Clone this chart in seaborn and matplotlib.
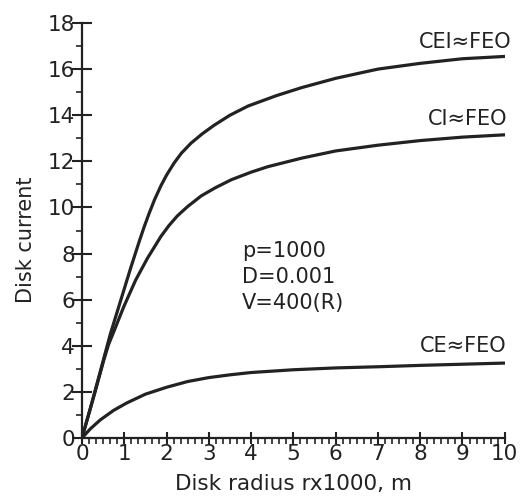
import matplotlib
matplotlib.use("Agg")
import matplotlib.pyplot as plt
from matplotlib.ticker import MultipleLocator
import pandas as pd
import seaborn as sns

# Disk radius (x1000 m) and disk current for the three cases
r_cei = [0, 0.2, 0.44, 0.67, 0.91, 1.15, 1.35, 1.47, 1.59, 1.72, 1.87, 2.0, 2.18,
         2.35, 2.58, 2.85, 3.13, 3.5, 3.93, 4.6, 5.2, 6, 7, 8, 9, 10]
i_cei = [0, 1.3, 2.93, 4.5, 5.93, 7.36, 8.5, 9.15, 9.75, 10.35, 10.95, 11.4, 11.93,
         12.35, 12.79, 13.2, 13.57, 14.0, 14.4, 14.85, 15.2, 15.6, 16.0, 16.25,
         16.45, 16.55]

r_ci = [0, 0.28, 0.52, 0.63, 0.75, 0.99, 1.27, 1.55, 1.87, 2.06, 2.26, 2.5, 2.82,
        3.15, 3.53, 4.0, 4.4, 5.2, 6, 7, 8, 9, 10]
i_ci = [0, 1.8, 3.4, 4.06, 4.6, 5.7, 6.85, 7.8, 8.75, 9.22, 9.64, 10.04, 10.5,
        10.85, 11.2, 11.53, 11.77, 12.14, 12.45, 12.7, 12.9, 13.05, 13.15]

r_ce = [0, 0.2, 0.43, 0.75, 1.06, 1.5, 2, 2.5, 3, 3.5, 4, 5, 6, 7, 8, 9, 10]
i_ce = [0, 0.4, 0.78, 1.2, 1.52, 1.9, 2.2, 2.45, 2.62, 2.74, 2.84, 2.96, 3.04,
        3.09, 3.15, 3.2, 3.25]

series_names = ["CEI\u2248FEO", "CI\u2248FEO", "CE\u2248FEO"]
params_text = ["p=1000", "D=0.001", "V=400(R)"]

frames = []
for name, rr, ii in zip(series_names, [r_cei, r_ci, r_ce], [i_cei, i_ci, i_ce]):
    frames.append(pd.DataFrame({"r": rr, "I": ii, "case": name}))
df = pd.concat(frames, ignore_index=True)

sns.set_style("ticks")
plt.rcParams["font.family"] = ["DejaVu Sans"]

ink = "#222222"
fig = plt.figure(figsize=(5.22, 5.0), dpi=100)
ax = fig.add_axes([0.157, 0.124, 0.81, 0.83])

sns.lineplot(data=df, x="r", y="I", units="case", estimator=None, sort=False,
             color=ink, linewidth=2.3, ax=ax, legend=False)
for line in ax.get_lines():
    line.set_solid_joinstyle("round")

ax.set_xlim(0, 10)
ax.set_ylim(0, 18)
ax.xaxis.set_major_locator(MultipleLocator(1))
ax.xaxis.set_minor_locator(MultipleLocator(1 / 6))
ax.yaxis.set_major_locator(MultipleLocator(2))
ax.yaxis.set_minor_locator(MultipleLocator(1))

sns.despine(ax=ax)
for s in ["left", "bottom"]:
    ax.spines[s].set_linewidth(1.6)
    ax.spines[s].set_color(ink)

ax.tick_params(axis="x", which="major", direction="inout", length=9, width=1.5,
               labelsize=15.5, pad=0, colors=ink)
ax.tick_params(axis="x", which="minor", direction="out", length=4, width=1.2,
               colors=ink)
ax.tick_params(axis="y", which="major", direction="inout", length=14, width=1.5,
               labelsize=15.5, pad=-2, colors=ink)
ax.tick_params(axis="y", which="minor", direction="out", length=4, width=1.2,
               colors=ink)

ax.set_xlabel("Disk radius rx1000, m", fontsize=15.5, color=ink, labelpad=7)
ax.set_ylabel("Disk current", fontsize=15, color=ink, labelpad=5)
ax.yaxis.set_label_coords(-0.108, 0.477)

# curve labels at the right end
label_pos = [(10.17, 16.9), (10.07, 13.57), (10.05, 3.73)]
for name, (lx, ly) in zip(series_names, label_pos):
    ax.text(lx, ly, name, ha="right", va="baseline", fontsize=15, color=ink,
            clip_on=False)

# model parameters
param_y = [7.85, 6.72, 5.6]
for txt, py in zip(params_text, param_y):
    ax.text(3.78, py, txt, ha="left", va="baseline", fontsize=15, color=ink)

fig.savefig("out.png", dpi=100, facecolor="white")
